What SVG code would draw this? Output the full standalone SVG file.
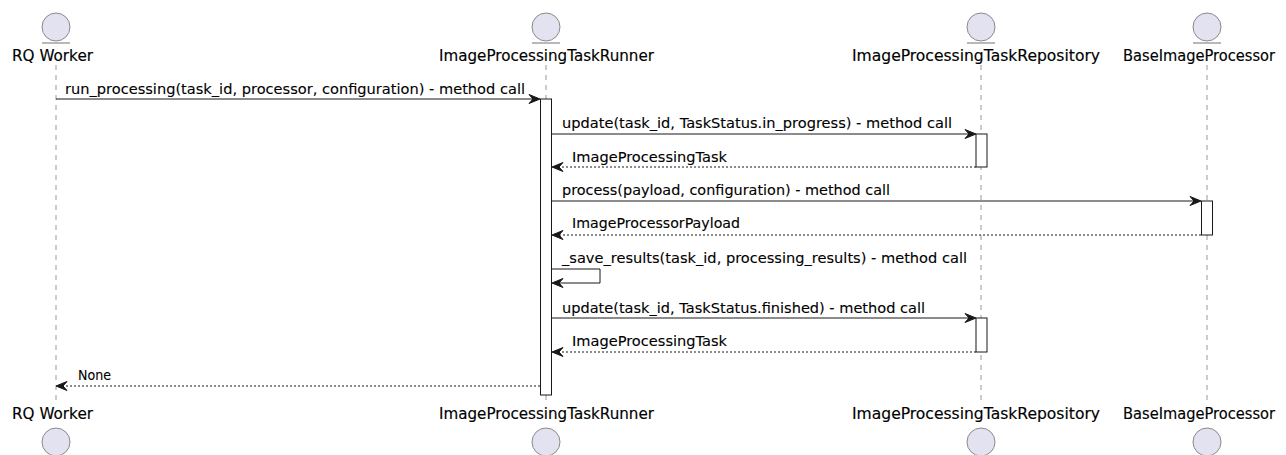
<svg xmlns="http://www.w3.org/2000/svg" width="1286" height="455" viewBox="0 0 1286 455">
<style>
.bg{fill:#FFFFFF}
.life{stroke:#555555;stroke-width:0.6;stroke-dasharray:5,5;fill:none}
.head{fill:#E2E2F0;stroke:#8A8A8A;stroke-width:1}
.uline{stroke:#A0A0A0;stroke-width:1.5}
.lbl{font-family:"DejaVu Sans","Liberation Sans",sans-serif;font-size:15px;fill:#000000;stroke:#000000;stroke-width:0.15}
.msg{font-family:"DejaVu Sans","Liberation Sans",sans-serif;font-size:14px;fill:#000000;stroke:#000000;stroke-width:0.1}
.act{fill:#FFFFFF;stroke:#181818;stroke-width:1}
.call{stroke:#181818;stroke-width:1;fill:none}
.ret{stroke:#181818;stroke-width:1;stroke-dasharray:2,2;fill:none}
.ah{fill:#181818;stroke:#181818;stroke-width:1}
</style>
<rect class="bg" x="0" y="0" width="1286" height="455"/>

<g id="lifelines">
<line class="life" x1="56" y1="65" x2="56" y2="403"/>
<line class="life" x1="546" y1="65" x2="546" y2="403"/>
<line class="life" x1="981" y1="65" x2="981" y2="403"/>
<line class="life" x1="1207" y1="65" x2="1207" y2="403"/>
</g>

<g id="rq-worker">
<circle class="head" cx="56" cy="27" r="14"/>
<line class="uline" x1="42" y1="43" x2="70" y2="43"/>
<text class="lbl" x="12" y="61" textLength="81" lengthAdjust="spacingAndGlyphs">RQ Worker</text>
<text class="lbl" x="12" y="419" textLength="81" lengthAdjust="spacingAndGlyphs">RQ Worker</text>
<circle class="head" cx="56" cy="442" r="14"/>
</g>

<g id="runner">
<circle class="head" cx="546" cy="27" r="14"/>
<line class="uline" x1="532" y1="43" x2="560" y2="43"/>
<text class="lbl" x="439" y="61" textLength="215" lengthAdjust="spacingAndGlyphs">ImageProcessingTaskRunner</text>
<text class="lbl" x="439" y="419" textLength="215" lengthAdjust="spacingAndGlyphs">ImageProcessingTaskRunner</text>
<circle class="head" cx="546" cy="442" r="14"/>
<rect class="act" x="540.5" y="99" width="11" height="296"/>
</g>

<g id="repository">
<circle class="head" cx="981" cy="27" r="14"/>
<line class="uline" x1="967" y1="43" x2="995" y2="43"/>
<text class="lbl" x="852" y="61" textLength="248" lengthAdjust="spacingAndGlyphs">ImageProcessingTaskRepository</text>
<text class="lbl" x="852" y="419" textLength="248" lengthAdjust="spacingAndGlyphs">ImageProcessingTaskRepository</text>
<circle class="head" cx="981" cy="442" r="14"/>
<rect class="act" x="976" y="134" width="11" height="33"/>
<rect class="act" x="976" y="318" width="11" height="34"/>
</g>

<g id="base-processor">
<circle class="head" cx="1207" cy="27" r="14"/>
<line class="uline" x1="1193" y1="43" x2="1221" y2="43"/>
<text class="lbl" x="1123" y="61" textLength="152" lengthAdjust="spacingAndGlyphs">BaseImageProcessor</text>
<text class="lbl" x="1123" y="419" textLength="152" lengthAdjust="spacingAndGlyphs">BaseImageProcessor</text>
<circle class="head" cx="1207" cy="442" r="14"/>
<rect class="act" x="1201.5" y="201" width="11" height="34"/>
</g>

<g id="connectors">
<line class="call" x1="56" y1="99" x2="538" y2="99"/>
<polygon class="ah" points="540,99 529,94.5 533,99 529,103.5"/>
<text class="msg" x="65" y="94" textLength="460" lengthAdjust="spacingAndGlyphs">run_processing(task_id, processor, configuration) - method call</text>

<line class="call" x1="552" y1="134" x2="974" y2="134"/>
<polygon class="ah" points="976,134 965,129.5 969,134 965,138.5"/>
<text class="msg" x="562" y="128" textLength="390" lengthAdjust="spacingAndGlyphs">update(task_id, TaskStatus.in_progress) - method call</text>

<line class="ret" x1="976" y1="167" x2="554" y2="167"/>
<polygon class="ah" points="552,167 563,162.5 559,167 563,171.5"/>
<text class="msg" x="572" y="162" textLength="155" lengthAdjust="spacingAndGlyphs">ImageProcessingTask</text>

<line class="call" x1="552" y1="201" x2="1199" y2="201"/>
<polygon class="ah" points="1201,201 1190,196.5 1194,201 1190,205.5"/>
<text class="msg" x="562" y="195" textLength="328" lengthAdjust="spacingAndGlyphs">process(payload, configuration) - method call</text>

<line class="ret" x1="1201" y1="235" x2="554" y2="235"/>
<polygon class="ah" points="552,235 563,230.5 559,235 563,239.5"/>
<text class="msg" x="572" y="228" textLength="168" lengthAdjust="spacingAndGlyphs">ImageProcessorPayload</text>

<polyline class="call" points="552,269 600,269 600,283 554,283"/>
<polygon class="ah" points="552,283 563,278.5 559,283 563,287.5"/>
<text class="msg" x="562" y="263" textLength="405" lengthAdjust="spacingAndGlyphs">_save_results(task_id, processing_results) - method call</text>

<line class="call" x1="552" y1="318" x2="974" y2="318"/>
<polygon class="ah" points="976,318 965,313.5 969,318 965,322.5"/>
<text class="msg" x="562" y="313" textLength="363" lengthAdjust="spacingAndGlyphs">update(task_id, TaskStatus.finished) - method call</text>

<line class="ret" x1="976" y1="352" x2="554" y2="352"/>
<polygon class="ah" points="552,352 563,347.5 559,352 563,356.5"/>
<text class="msg" x="572" y="346" textLength="155" lengthAdjust="spacingAndGlyphs">ImageProcessingTask</text>

<line class="ret" x1="540" y1="386" x2="58" y2="386"/>
<polygon class="ah" points="56,386 67,381.5 63,386 67,390.5"/>
<text class="msg" x="78" y="380" textLength="33" lengthAdjust="spacingAndGlyphs">None</text>
</g>
</svg>
